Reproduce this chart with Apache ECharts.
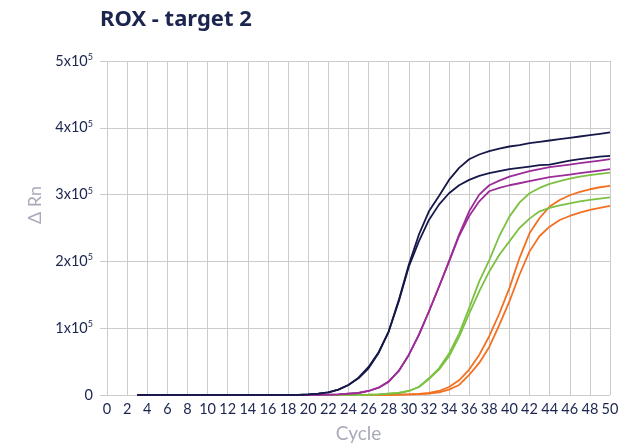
<!DOCTYPE html>
<html lang="en">
<head>
    <meta charset="UTF-8">
    <title>ROX - target 2</title>
    <script type="text/javascript" src="https://cdn.jsdelivr.net/npm/echarts@6/dist/echarts.min.js"></script>
    <style>
        html, body { margin: 0; padding: 0; background: #fff; }
        #ec { width: 633px; height: 443px; }
    </style>
</head>
<body>
<div id="ec"></div>
<script>
    // cycles 3..50, values in units of 1x10^5
    var cycles = [];
    for (var c = 3; c <= 50; c++) cycles.push(c);

    var flat = [0.003, 0.003, 0.003, 0.003, 0.003, 0.003, 0.003, 0.003, 0.003, 0.003, 0.003, 0.003, 0.003, 0.003, 0.003, 0.003, 0.003]; // 3..19

    var navy1 = flat.concat([0.01, 0.02, 0.04, 0.08, 0.15, 0.25, 0.4, 0.63, 0.95, 1.42, 1.95, 2.4, 2.75, 2.98, 3.22, 3.4, 3.53, 3.6, 3.65, 3.69, 3.72, 3.74, 3.77, 3.79, 3.81, 3.83, 3.85, 3.87, 3.89, 3.91, 3.93]);
    var navy2 = flat.concat([0.01, 0.02, 0.04, 0.08, 0.15, 0.26, 0.42, 0.64, 0.95, 1.4, 1.92, 2.3, 2.62, 2.85, 3.02, 3.14, 3.22, 3.28, 3.32, 3.35, 3.38, 3.4, 3.42, 3.44, 3.45, 3.48, 3.51, 3.53, 3.55, 3.57, 3.58]);
    var magenta1 = flat.concat([0.003, 0.003, 0.005, 0.01, 0.02, 0.03, 0.06, 0.11, 0.2, 0.36, 0.6, 0.9, 1.25, 1.62, 2.0, 2.4, 2.75, 3.0, 3.14, 3.21, 3.27, 3.31, 3.35, 3.38, 3.41, 3.43, 3.45, 3.47, 3.49, 3.51, 3.53]);
    var magenta2 = flat.concat([0.003, 0.003, 0.005, 0.01, 0.02, 0.03, 0.06, 0.11, 0.2, 0.36, 0.6, 0.9, 1.25, 1.62, 2.0, 2.38, 2.68, 2.9, 3.05, 3.1, 3.14, 3.17, 3.2, 3.23, 3.26, 3.28, 3.3, 3.32, 3.34, 3.36, 3.38]);
    var green1 = flat.concat([0.003, 0.003, 0.003, 0.003, 0.003, 0.003, 0.005, 0.01, 0.02, 0.03, 0.06, 0.12, 0.25, 0.4, 0.62, 0.92, 1.3, 1.7, 2.02, 2.38, 2.67, 2.88, 3.02, 3.1, 3.16, 3.2, 3.24, 3.27, 3.29, 3.31, 3.33]);
    var green2 = flat.concat([0.003, 0.003, 0.003, 0.003, 0.003, 0.003, 0.005, 0.01, 0.02, 0.03, 0.06, 0.12, 0.24, 0.38, 0.58, 0.87, 1.22, 1.55, 1.85, 2.1, 2.3, 2.5, 2.64, 2.75, 2.8, 2.84, 2.87, 2.9, 2.92, 2.94, 2.96]);
    var orange1 = flat.concat([0.003, 0.003, 0.003, 0.003, 0.003, 0.003, 0.003, 0.003, 0.003, 0.005, 0.01, 0.015, 0.03, 0.06, 0.12, 0.22, 0.38, 0.6, 0.88, 1.22, 1.6, 2.05, 2.42, 2.65, 2.82, 2.92, 2.99, 3.04, 3.08, 3.11, 3.13]);
    var orange2 = flat.concat([0.003, 0.003, 0.003, 0.003, 0.003, 0.003, 0.003, 0.003, 0.003, 0.005, 0.008, 0.012, 0.02, 0.04, 0.08, 0.15, 0.3, 0.48, 0.72, 1.05, 1.4, 1.8, 2.15, 2.38, 2.52, 2.62, 2.68, 2.73, 2.77, 2.8, 2.83]);

    var yTicks = [0, 1, 2, 3, 4, 5];

    function pairs(vals) {
        return cycles.map(function (c, i) { return [c, vals[i] * 1e5]; });
    }

    function line(vals, color) {
        return {
            type: 'line',
            data: pairs(vals),
            showSymbol: false,
            symbol: 'none',
            lineStyle: { color: color, width: 1.8 },
            z: 3
        };
    }

    var myChart = echarts.init(document.getElementById('ec'));
    myChart.setOption({
        animation: false,
        title: {
            text: 'ROX - target 2',
            left: 95,
            top: 4,
            textStyle: { color: '#1b2550', fontSize: 22, fontWeight: 'bold', fontFamily: 'Noto Sans' }
        },
        grid: { left: 107, right: 23, top: 61, bottom: 48, outerBoundsMode: 'none', containLabel: false },
        xAxis: {
            type: 'value',
            min: 0,
            max: 50,
            interval: 2,
            name: 'Cycle',
            nameLocation: 'middle',
            nameGap: 29,
            nameTextStyle: { color: '#a9abba', fontSize: 19, fontFamily: 'Lato' },
            axisLine: { show: false },
            axisTick: { show: false },
            axisLabel: { color: '#1b2550', fontSize: 14.5, fontFamily: 'Lato', margin: 7 },
            splitLine: { show: true, lineStyle: { color: '#cccccc', width: 1 } }
        },
        yAxis: {
            type: 'value',
            min: 0,
            max: 5e5,
            interval: 1e5,
            name: 'Δ Rn',
            nameLocation: 'middle',
            nameRotate: 90,
            nameGap: 57,
            nameTextStyle: { color: '#a9abba', fontSize: 18, fontFamily: 'Lato', padding: [0, 0, 0, 46] },
            axisLine: { show: false },
            axisTick: { show: true, length: 7, lineStyle: { color: '#cccccc' } },
            axisLabel: {
                margin: 14,
                fontFamily: 'Lato',
                formatter: function (v) {
                    var k = Math.round(v / 1e5);
                    if (yTicks.indexOf(k) < 0) return '';
                    return k === 0 ? '{m|0}' : '{m|' + k + 'x10}{s|5}';
                },
                rich: {
                    m: { color: '#1b2550', fontSize: 14.5, fontFamily: 'Lato' },
                    s: { color: '#1b2550', fontSize: 9, fontFamily: 'Lato', verticalAlign: 'bottom', padding: [0, 0, 8, 0] }
                }
            },
            splitLine: { show: true, lineStyle: { color: '#cccccc', width: 1 } }
        },
        series: [
            line(orange2, '#f37021'),
            line(orange1, '#f37021'),
            line(green2, '#7cc142'),
            line(green1, '#7cc142'),
            line(magenta2, '#9b2c98'),
            line(magenta1, '#9b2c98'),
            line(navy2, '#17184a'),
            line(navy1, '#17184a')
        ]
    });
</script>
</body>
</html>
